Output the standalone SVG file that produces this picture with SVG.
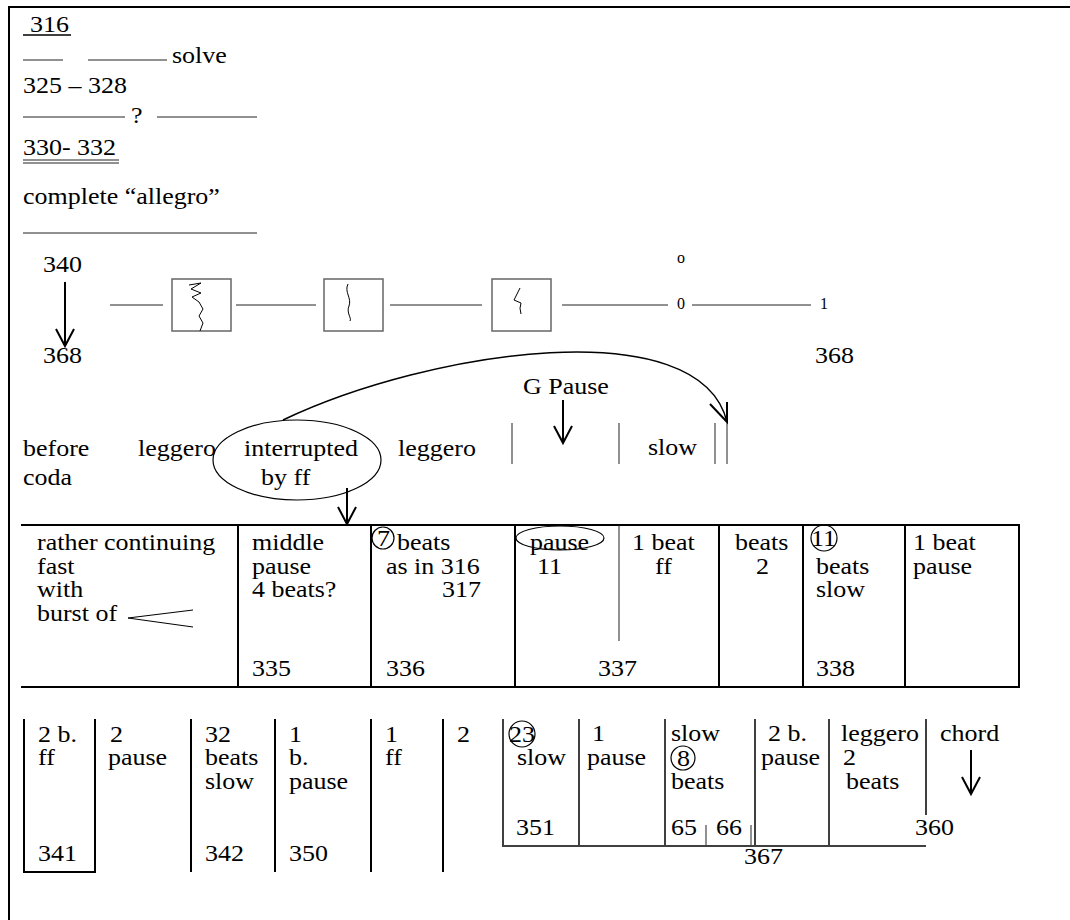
<svg xmlns="http://www.w3.org/2000/svg" width="1070" height="920" viewBox="0 0 1070 920">
<style>
text{font-family:"Liberation Serif","Times New Roman",serif;font-size:23px;fill:#000;transform-box:fill-box;transform-origin:0 0;transform:scaleX(1.13)}
text.s{font-size:16px;transform:none}
.ln{stroke:#000;stroke-width:2;fill:none}
.th{stroke:#000;stroke-width:1.5;fill:none}
.hl{stroke:#222;stroke-width:1;fill:none}
.bx{stroke:#666;stroke-width:1.5;fill:#fff}
.sq{stroke:#000;stroke-width:1;fill:none}
.ar{stroke:#000;stroke-width:2;fill:none;marker-end:url(#ah)}
.ov{stroke:#000;stroke-width:1.2;fill:none}
</style>
<defs>
<marker id="ah" viewBox="-20 -12 24 24" markerWidth="24" markerHeight="24" markerUnits="userSpaceOnUse" orient="auto" refX="0" refY="0">
<path d="M-17,-9 L0,0 L-17,9" fill="none" stroke="#000" stroke-width="2"/>
</marker>
</defs>
<rect width="1070" height="920" fill="#fff"/>
<g id="frame">
<line class="ln" x1="9" y1="7" x2="1070" y2="7"/>
<line class="ln" x1="9" y1="6" x2="9" y2="920"/>
</g>
<g id="notes">
<text x="30" y="32">316</text>
<line class="th" x1="23" y1="35" x2="71" y2="35"/>
<line class="hl" x1="23" y1="60" x2="63" y2="60"/>
<line class="hl" x1="88" y1="60" x2="167" y2="60"/>
<text x="172" y="63">solve</text>
<text x="23" y="93">325 – 328</text>
<line class="hl" x1="23" y1="117" x2="125" y2="117"/>
<text x="131" y="123">?</text>
<line class="hl" x1="157" y1="117" x2="257" y2="117"/>
<text x="23" y="155">330- 332</text>
<line class="hl" x1="23" y1="160" x2="119" y2="160"/>
<line class="hl" x1="23" y1="163" x2="119" y2="163"/>
<text x="23" y="204">complete “allegro”</text>
<line class="hl" x1="23" y1="233" x2="257" y2="233"/>
</g>
<g id="range">
<text x="43" y="272">340</text>
<text x="43" y="363">368</text>
<text x="815" y="363">368</text>
</g>
<g id="box1"><rect class="bx" x="172" y="279" width="59" height="52"/>
<path class="sq" d="M189,285 L201,283 L191,289 L201,293 L192,297 L199,302 L203,309 L199,316 L203,323 L200,331"/></g>
<g id="box2"><rect class="bx" x="324" y="279" width="59" height="52"/>
<path class="sq" d="M348,284 C344,292 352,298 349,306 C346,313 352,318 350,321"/></g>
<g id="box3"><rect class="bx" x="492" y="279" width="59" height="52"/>
<path class="sq" d="M520,288 L514,300 L521,303 Q519,308 521,314"/></g>
<g id="marks">
<text class="s" x="677" y="263">o</text>
<text class="s" x="677" y="309">0</text>
<text class="s" x="820" y="309">1</text>
</g>
<g id="sketch-row">
<text x="23" y="456">before</text>
<text x="23" y="485">coda</text>
<text x="138" y="456">leggero</text>
<text x="398" y="456">leggero</text>
<text x="523" y="394">G Pause</text>
<text x="648" y="455">slow</text>
<line class="hl" x1="512" y1="423" x2="512" y2="464"/>
<line class="hl" x1="619" y1="423" x2="619" y2="464"/>
<line class="hl" x1="715" y1="423" x2="715" y2="464"/>
<line class="hl" x1="727" y1="423" x2="727" y2="464"/>
</g>
<g id="interrupted">
<ellipse class="ov" cx="297" cy="460" rx="84" ry="40"/>
<text x="244" y="456">interrupted</text>
<text x="261" y="485">by ff</text>
</g>
<g id="connectors">
<line class="hl" x1="110" y1="305" x2="163" y2="305"/>
<line class="hl" x1="236" y1="305" x2="316" y2="305"/>
<line class="hl" x1="390" y1="305" x2="482" y2="305"/>
<line class="hl" x1="562" y1="305" x2="668" y2="305"/>
<line class="hl" x1="692" y1="305" x2="811" y2="305"/>
<line class="ar" x1="65" y1="282" x2="65" y2="346"/>
<path class="sq" d="M283,420 C430,350 700,310 727,422" style="stroke-width:1.5"/>
<path class="ln" d="M710,404 L727,422 L727,402"/>
<line class="ar" x1="563" y1="400" x2="563" y2="443"/>
<line class="ar" x1="347" y1="488" x2="347" y2="524"/>
<line class="ar" x1="971" y1="750" x2="971" y2="794"/>
</g>
<g id="table1">
<line class="ln" x1="21" y1="525" x2="1020" y2="525"/>
<line class="ln" x1="21" y1="687" x2="1020" y2="687"/>
<line class="ln" x1="238" y1="525" x2="238" y2="687"/>
<line class="ln" x1="371" y1="525" x2="371" y2="687"/>
<line class="ln" x1="515" y1="525" x2="515" y2="687"/>
<line class="ln" x1="719" y1="525" x2="719" y2="687"/>
<line class="ln" x1="803" y1="525" x2="803" y2="687"/>
<line class="ln" x1="905" y1="525" x2="905" y2="687"/>
<line class="ln" x1="1019" y1="525" x2="1019" y2="687"/>
<line class="hl" x1="619" y1="525" x2="619" y2="641"/>
</g>
<g id="c-rather">
<text x="37" y="550">rather continuing</text>
<text x="37" y="574">fast</text>
<text x="37" y="597">with</text>
<text x="37" y="621">burst of</text>
<path class="sq" d="M193,610 L128,618 L193,627"/>
</g>
<g id="c-middle">
<text x="252" y="550">middle</text>
<text x="252" y="574">pause</text>
<text x="252" y="597">4 beats?</text>
<text x="252" y="676">335</text>
</g>
<g id="c-seven">
<circle class="ov" cx="383" cy="538" r="11"/>
<text x="377" y="546">7</text>
<text x="397" y="550">beats</text>
<text x="386" y="574">as in 316</text>
<text x="442" y="597">317</text>
<text x="386" y="676">336</text>
</g>
<g id="c-pause">
<ellipse class="ov" cx="560" cy="538" rx="44" ry="12"/>
<text x="530" y="550">pause</text>
<text x="537" y="574">11</text>
<text x="598" y="676">337</text>
<text x="632" y="550">1 beat</text>
<text x="655" y="574">ff</text>
</g>
<g id="c-beats2">
<text x="735" y="550">beats</text>
<text x="756" y="574">2</text>
</g>
<g id="c-eleven">
<circle class="ov" cx="824" cy="538" r="13"/>
<text x="811" y="546">11</text>
<text x="816" y="574">beats</text>
<text x="816" y="597">slow</text>
<text x="816" y="676">338</text>
</g>
<g id="c-onebeat">
<text x="913" y="550">1 beat</text>
<text x="913" y="574">pause</text>
</g>
<g id="table2">
<path class="ln" d="M24,719 V872 H95 V719"/>
<line class="ln" x1="191" y1="719" x2="191" y2="872"/>
<line class="ln" x1="275" y1="719" x2="275" y2="872"/>
<line class="ln" x1="371" y1="719" x2="371" y2="872"/>
<line class="ln" x1="443" y1="719" x2="443" y2="872"/>
<line class="th" x1="503" y1="719" x2="503" y2="845"/>
<line class="th" x1="579" y1="719" x2="579" y2="845"/>
<line class="th" x1="665" y1="719" x2="665" y2="845"/>
<line class="th" x1="755" y1="719" x2="755" y2="845"/>
<line class="th" x1="829" y1="719" x2="829" y2="845"/>
<line class="th" x1="926" y1="719" x2="926" y2="815"/>
<line class="hl" x1="706" y1="825" x2="706" y2="845"/>
<line class="hl" x1="751" y1="825" x2="751" y2="845"/>
<line class="th" x1="502" y1="846" x2="926" y2="846"/>
</g>
<g id="b-341"><text x="38" y="742">2 b.</text><text x="38" y="765">ff</text><text x="38" y="861">341</text></g>
<g id="b-pause2"><text x="110" y="742">2</text><text x="108" y="765">pause</text></g>
<g id="b-342"><text x="205" y="742">32</text><text x="205" y="765">beats</text><text x="205" y="789">slow</text><text x="205" y="861">342</text></g>
<g id="b-350"><text x="289" y="742">1</text><text x="289" y="765">b.</text><text x="289" y="789">pause</text><text x="289" y="861">350</text></g>
<g id="b-ff"><text x="385" y="742">1</text><text x="385" y="765">ff</text></g>
<g id="b-two"><text x="457" y="742">2</text></g>
<g id="b-351"><circle class="ov" cx="522" cy="734" r="13"/><text x="509" y="742">23</text><text x="517" y="765">slow</text><text x="516" y="835">351</text></g>
<g id="b-1pause"><text x="592" y="741">1</text><text x="587" y="765">pause</text></g>
<g id="b-slow8"><text x="671" y="741">slow</text><circle class="ov" cx="683" cy="758" r="12"/><text x="677" y="766">8</text><text x="671" y="789">beats</text><text x="671" y="835">65</text><text x="716" y="835">66</text></g>
<g id="b-2bpause"><text x="768" y="741">2 b.</text><text x="761" y="765">pause</text></g>
<g id="b-leggero"><text x="841" y="741">leggero</text><text x="843" y="765">2</text><text x="846" y="789">beats</text></g>
<g id="b-chord"><text x="940" y="741">chord</text></g>
<g id="b-nums"><text x="915" y="835">360</text><text x="744" y="864">367</text></g>
</svg>
